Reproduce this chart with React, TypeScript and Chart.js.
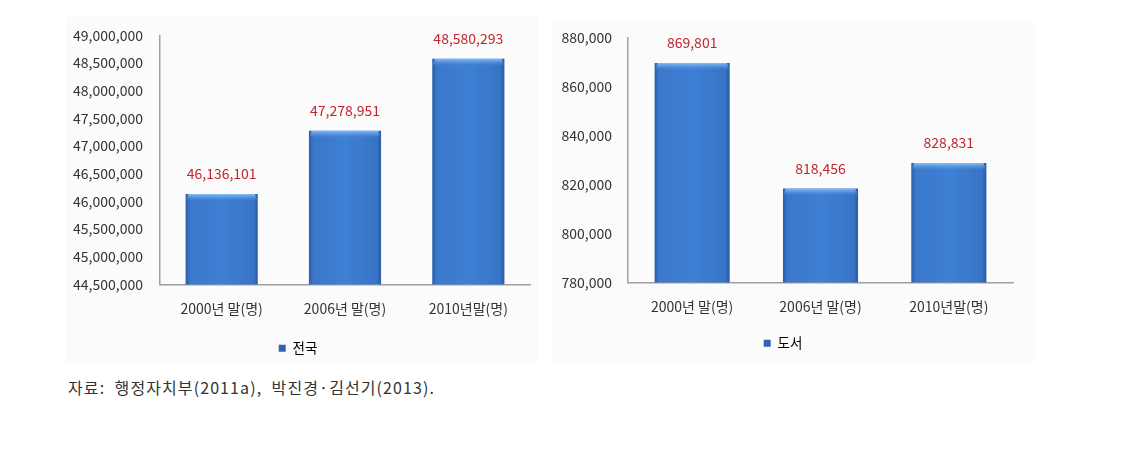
import React, { useEffect, useRef } from "react";
import { Chart, registerables } from "chart.js";

Chart.register(...registerables);

const categories = ["2000년 말(명)", "2006년 말(명)", "2010년말(명)"];
const nationalValues = [46136101, 47278951, 48580293];
const islandValues = [869801, 818456, 828831];
const nationalTicks = { min: 44500000, max: 49000000, step: 500000 };
const islandTicks = { min: 780000, max: 880000, step: 20000 };
const caption = "자료:  행정자치부(2011a),  박진경·김선기(2013).";

const FONT = "'Noto Sans CJK KR', 'Noto Sans', sans-serif";
const BAR_PCT = 0.585;
const fmt = (v: number) => Math.round(v).toLocaleString("en-US");

const barFill = (ctx: any) => {
  const chart = ctx.chart;
  const area = chart.chartArea;
  const xs = chart.scales && chart.scales.x;
  if (!area || !xs || ctx.dataIndex === undefined) return "#3b7dd2";
  const cx = xs.getPixelForValue(ctx.dataIndex);
  const half = ((area.right - area.left) / categories.length) * BAR_PCT / 2;
  if (!Number.isFinite(cx) || !Number.isFinite(half) || half <= 0) return "#3b7dd2";
  const c = chart.ctx as CanvasRenderingContext2D;
  const g = c.createLinearGradient(cx - half, 0, cx + half, 0);
  g.addColorStop(0, "#2a5da6");
  g.addColorStop(0.06, "#3a78cb");
  g.addColorStop(0.5, "#3e80d4");
  g.addColorStop(0.94, "#3874c6");
  g.addColorStop(1, "#2a5aa0");
  return g;
};

const labelPlugin = {
  id: "valueLabels",
  afterDatasetsDraw(chart: any) {
    const c = chart.ctx as CanvasRenderingContext2D;
    const meta = chart.getDatasetMeta(0);
    const data = chart.data.datasets[0].data as number[];
    c.save();
    meta.data.forEach((el: any) => {
      const half = el.width / 2;
      if (!Number.isFinite(el.x) || !Number.isFinite(el.y) || !Number.isFinite(half)) return;
      const g = c.createLinearGradient(0, el.y, 0, el.y + 7);
      g.addColorStop(0, "rgba(140,195,250,0.95)");
      g.addColorStop(1, "rgba(90,150,225,0)");
      c.fillStyle = g;
      c.beginPath();
      c.moveTo(el.x - half, el.y + 7);
      c.lineTo(el.x - half + 3, el.y);
      c.lineTo(el.x + half - 3, el.y);
      c.lineTo(el.x + half, el.y + 7);
      c.closePath();
      c.fill();
    });
    c.fillStyle = "#c0262c";
    c.font = `14px ${FONT}`;
    c.textAlign = "center";
    c.textBaseline = "middle";
    meta.data.forEach((el: any, i: number) => {
      c.fillText(fmt(data[i]), el.x, el.y - 20);
    });
    c.restore();
  },
};

function BarPanel(props: {
  values: number[];
  label: string;
  ticks: { min: number; max: number; step: number };
  yWidth: number;
  padTop: number;
  padRight: number;
  tickPad: number;
  xHeight: number;
  width: number;
  height: number;
}) {
  const ref = useRef<HTMLCanvasElement>(null);
  useEffect(() => {
    if (!ref.current) return;
    const chart = new Chart(ref.current, {
      type: "bar",
      data: {
        labels: categories,
        datasets: [
          {
            label: props.label,
            data: props.values,
            backgroundColor: barFill,
            borderWidth: 0,
            barPercentage: BAR_PCT,
            categoryPercentage: 1,
          },
        ],
      },
      options: {
        animation: false,
        responsive: false,
        maintainAspectRatio: false,
        layout: { padding: { top: props.padTop, right: props.padRight, left: 0, bottom: 0 } },
        plugins: {
          tooltip: { enabled: false },
          legend: {
            display: true,
            position: "bottom",
            labels: {
              boxWidth: 7,
              boxHeight: 7,
              padding: 6,
              color: "#333",
              font: { family: FONT, size: 13.5 },
              generateLabels: (ch: any) => [
                {
                  text: ch.data.datasets[0].label,
                  fillStyle: "#2f64b0",
                  strokeStyle: "#2f64b0",
                  lineWidth: 0,
                  hidden: false,
                  datasetIndex: 0,
                },
              ],
            },
          },
        },
        scales: {
          x: {
            grid: { display: false, drawTicks: false },
            border: { display: true, color: "#a0a0a0", width: 1.5 },
            ticks: { color: "#333", font: { family: FONT, size: 14 }, padding: 16 },
            afterFit: (s: any) => {
              s.height = props.xHeight;
            },
          },
          y: {
            min: props.ticks.min,
            max: props.ticks.max,
            grid: { display: false, drawTicks: false },
            border: { display: true, color: "#a0a0a0", width: 1.5 },
            ticks: {
              stepSize: props.ticks.step,
              color: "#333",
              font: { family: FONT, size: 14 },
              padding: props.tickPad,
              callback: (v: any) => fmt(Number(v)),
            },
            afterFit: (s: any) => {
              s.width = props.yWidth;
            },
          },
        },
      },
      plugins: [labelPlugin],
    });
    return () => chart.destroy();
  }, []);
  return <canvas ref={ref} width={props.width} height={props.height} />;
}

export default function App() {
  return (
    <div
      style={{
        position: "absolute",
        left: 0,
        top: 0,
        width: 1128,
        height: 453,
        background: "#fff",
        fontFamily: FONT,
      }}
    >
      <div style={{ position: "absolute", left: 66, top: 17, width: 472, height: 347, background: "#fbfbfb" }} />
      <div style={{ position: "absolute", left: 553, top: 22, width: 482, height: 340, background: "#fbfbfb" }} />
      <div style={{ position: "absolute", left: 66, top: 10 }}>
        <BarPanel
          values={nationalValues}
          label="전국"
          ticks={nationalTicks}
          yWidth={94}
          padTop={25}
          padRight={16}
          tickPad={17}
          xHeight={51}
          width={480}
          height={355}
        />
      </div>
      <div style={{ position: "absolute", left: 553, top: 10 }}>
        <BarPanel
          values={islandValues}
          label="도서"
          ticks={islandTicks}
          yWidth={75}
          padTop={28}
          padRight={20}
          tickPad={16}
          xHeight={48}
          width={480}
          height={350}
        />
      </div>
      <div
        style={{
          position: "absolute",
          left: 68,
          top: 375,
          fontSize: 16,
          letterSpacing: 1.1,
          color: "#333",
          whiteSpace: "pre",
        }}
      >
        {caption}
      </div>
    </div>
  );
}
